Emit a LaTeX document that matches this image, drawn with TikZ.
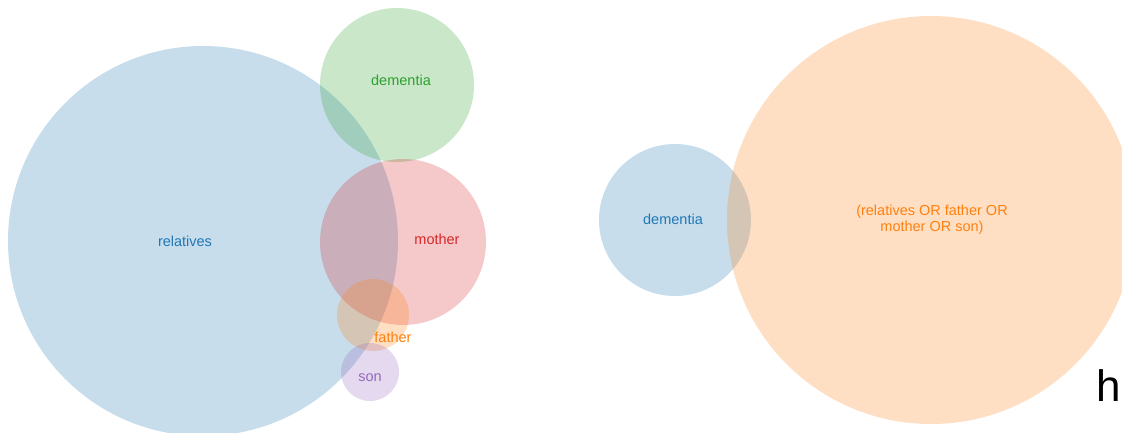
\documentclass[tikz,border=0pt]{standalone}
\usepackage{fontspec}
\setmainfont{Liberation Sans}
\definecolor{cblue}{HTML}{1F77B4}
\definecolor{corange}{HTML}{FF7F0E}
\definecolor{cgreen}{HTML}{2CA02C}
\definecolor{cred}{HTML}{D62728}
\definecolor{cpurple}{HTML}{9467BD}
\tikzset{
  setc/.style={circle, draw=none, fill=#1, fill opacity=0.25, text opacity=0, inner sep=0pt},
  lbl/.style={text=#1, font=\fontsize{14.5}{16}\selectfont, align=center, inner sep=0pt}
}
\begin{document}
\begin{tikzpicture}[x=1pt,y=-1pt]
\useasboundingbox (0,0) rectangle (1122,432);
\clip (0,0) rectangle (1122,432);
% left diagram
\node[setc=cblue, minimum size=390pt] (rel) at (203,241) {};
\node[setc=cgreen, minimum size=154pt] (dem) at (397,85) {};
\node[setc=cred, minimum size=166pt] (mot) at (403,242) {};
\node[setc=corange, minimum size=72pt] (fat) at (373,315) {};
\node[setc=cpurple, minimum size=58pt] (son) at (370,372) {};
\node[lbl=cblue] (trel) at (185,241) {relatives};
\node[lbl=cgreen] (tdem) at (401,80) {dementia};
\node[lbl=cred] (tmot) at (437,239) {mother};
\node[lbl=corange] (tfat) at (393,337) {father};
\node[lbl=cpurple] (tson) at (370,378) {son};
% right diagram
\node[setc=cblue, minimum size=152pt] (dem2) at (675,220) {};
\node[setc=corange, minimum size=408pt] (any) at (931,220) {};
\node[lbl=cblue] (tdem2) at (673,219) {dementia};
\node[lbl=corange] (tany) at (932,220) {(relatives OR father OR\\mother OR son)};
% stray letter
\node[anchor=base east, inner sep=0pt, font=\fontsize{44}{48}\selectfont] (h) at (1121,401) {h};
\end{tikzpicture}
\end{document}
